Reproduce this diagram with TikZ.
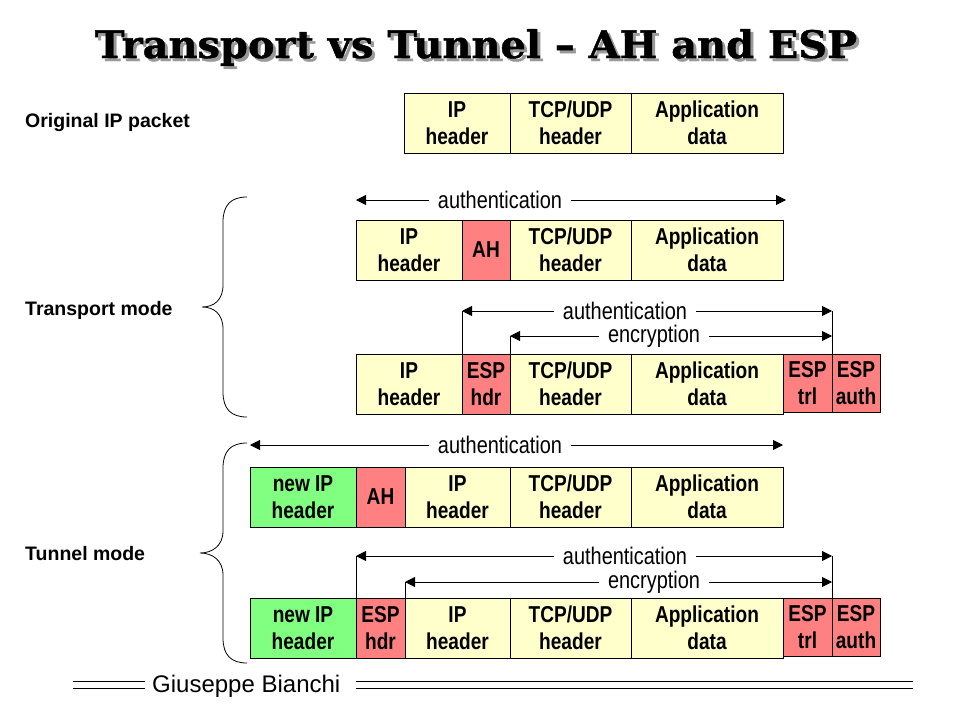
\documentclass[tikz,border=0pt]{standalone}
\usepackage{fontspec}
\setmainfont{Liberation Sans}
\newfontfamily\narrowsans[FakeStretch=0.83]{Liberation Sans}
\newfontfamily\titleserif[FakeStretch=1.05,FakeBold=1.2]{DejaVu Serif}
\usepackage{tikz}
\usetikzlibrary{arrows.meta,positioning,calc}
\definecolor{pktyellow}{RGB}{255,255,204}
\definecolor{pktred}{RGB}{255,128,128}
\definecolor{pktgreen}{RGB}{128,255,128}
\newcommand{\boxtext}{\fontsize{23}{27.5}\selectfont\narrowsans\bfseries}
\newcommand{\dimtext}{\fontsize{24}{28}\selectfont\narrowsans}
\newcommand{\sidetext}{\fontsize{19.5}{23}\selectfont\bfseries}
\newcommand{\foottext}{\fontsize{24}{28}\selectfont}
\newcommand{\titletext}{\fontsize{38}{42}\selectfont\titleserif\bfseries}

\begin{document}
\begin{tikzpicture}[x=1pt, y=-1pt, pkt/.style={draw, line width=0.8pt, outer sep=0pt, inner sep=0pt, minimum height=60pt, anchor=north west, align=center, font=\boxtext}, yel/.style={pkt, fill=pktyellow}, redb/.style={pkt, fill=pktred}, grn/.style={pkt, fill=pktgreen}, dimline/.style={{Triangle[length=10pt,width=10pt]}-{Triangle[length=10pt,width=10pt]}, line width=0.8pt}, dimlabel/.style={fill=white, inner xsep=9pt, inner ysep=1pt, font=\dimtext}, guide/.style={line width=0.8pt}, modelabel/.style={anchor=base west, inner sep=0pt, font=\sidetext}, modebrace/.style={line width=0.8pt}, footrule/.style={line width=0.9pt}]
\useasboundingbox (0,0) rectangle (960,720);
% title with its shadow
\node[anchor=base, font=\titletext, text=black!40] (shadow) at (479,61) {Transport vs Tunnel – AH and ESP};
\node[anchor=base, font=\titletext] (title) at (476,58) {Transport vs Tunnel – AH and ESP};
% side labels
\node[modelabel] (orig)  at (25,127) {Original IP packet};
\node[modelabel] (trans) at (25,315) {Transport mode};
\node[modelabel] (tunn)  at (25,560) {Tunnel mode};
% original packet
\node[yel, minimum width=106pt] (oip)  at (404,93)          {IP\\header};
\node[yel, minimum width=121pt] (otcp) at (oip.north east)  {TCP/UDP\\header};
\node[yel, minimum width=152pt] (oapp) at (otcp.north east) {Application\\data};
% transport mode, AH
\node[yel,  minimum width=106pt] (tip)  at (356,220)         {IP\\header};
\node[redb, minimum width=48pt]  (tah)  at (tip.north east)  {AH};
\node[yel,  minimum width=121pt] (ttcp) at (tah.north east)  {TCP/UDP\\header};
\node[yel,  minimum width=152pt] (tapp) at (ttcp.north east) {Application\\data};
% transport mode, ESP
\node[yel,  minimum width=106pt] (eip)  at (356,354)         {IP\\header};
\node[redb, minimum width=48pt]  (ehdr) at (eip.north east)  {ESP\\hdr};
\node[yel,  minimum width=121pt] (etcp) at (ehdr.north east) {TCP/UDP\\header};
\node[yel,  minimum width=152pt] (eapp) at (etcp.north east) {Application\\data};
\node[redb, minimum width=49pt, minimum height=58pt] (etrl)  at (eapp.north east) {ESP\\trl};
\node[redb, minimum width=48pt, minimum height=58pt] (eauth) at (etrl.north east) {ESP\\auth};
% tunnel mode, AH
\node[grn,  minimum width=106pt] (unew) at (250,467)         {new IP\\header};
\node[redb, minimum width=49pt]  (uah)  at (unew.north east) {AH};
\node[yel,  minimum width=105pt] (uip)  at (uah.north east)  {IP\\header};
\node[yel,  minimum width=121pt] (utcp) at (uip.north east)  {TCP/UDP\\header};
\node[yel,  minimum width=152pt] (uapp) at (utcp.north east) {Application\\data};
% tunnel mode, ESP
\node[grn,  minimum width=106pt] (vnew) at (250,598)         {new IP\\header};
\node[redb, minimum width=49pt]  (vhdr) at (vnew.north east) {ESP\\hdr};
\node[yel,  minimum width=105pt] (vip)  at (vhdr.north east) {IP\\header};
\node[yel,  minimum width=121pt] (vtcp) at (vip.north east)  {TCP/UDP\\header};
\node[yel,  minimum width=152pt] (vapp) at (vtcp.north east) {Application\\data};
\node[redb, minimum width=49pt, minimum height=58pt] (vtrl)  at (vapp.north east) {ESP\\trl};
\node[redb, minimum width=48pt, minimum height=58pt] (vauth) at (vtrl.north east) {ESP\\auth};
% coverage arrows
\coordinate (ta) at (0,200); \coordinate (ea) at (0,311); \coordinate (ee) at (0,336);
\coordinate (ua) at (0,445); \coordinate (va) at (0,556); \coordinate (ve) at (0,582);
\draw[dimline] (tip.north west |- ta) -- ([xshift=3pt]tapp.north east |- ta);
\draw[dimline] (ehdr.north west |- ea) -- (eauth.north west |- ea); \draw[dimline] (etcp.north west |- ee) -- (eauth.north west |- ee);
\draw[guide] (ehdr.north west) -- (ehdr.north west |- ea) (etcp.north west) -- (etcp.north west |- ee) (eauth.north west) -- (eauth.north west |- ea);
\draw[dimline] (unew.north west |- ua) -- (uapp.north east |- ua);
\draw[dimline] (vhdr.north west |- va) -- (vauth.north west |- va); \draw[dimline] (vip.north west |- ve) -- (vauth.north west |- ve);
\draw[guide] (vhdr.north west) -- (vhdr.north west |- va) (vip.north west) -- (vip.north west |- ve) (vauth.north west) -- (vauth.north west |- va);
\node[dimlabel] (tal) at (500,200) {authentication};
\node[dimlabel] (eal) at (625,311) {authentication};
\node[dimlabel] (eel) at (654,336) {encryption};
\node[dimlabel] (ual) at (500,445) {authentication};
\node[dimlabel] (val) at (625,556) {authentication};
\node[dimlabel] (vel) at (654,582) {encryption};
% mode braces
\draw[modebrace] (247,197) .. controls (231,197) and (223,205) .. (223,222) -- (223,285) .. controls (223,300) and (214,307) .. (202,307) .. controls (214,307) and (223,314) .. (223,329) -- (223,392) .. controls (223,409) and (231,417) .. (247,417);
\draw[modebrace] (247,443) .. controls (231,443) and (223,451) .. (223,468) -- (223,531) .. controls (223,546) and (212,553) .. (200,553) .. controls (212,553) and (223,560) .. (223,575) -- (223,638) .. controls (223,655) and (231,663) .. (247,663);
% footer
\node[anchor=base west, inner xsep=7pt, inner ysep=2pt, font=\foottext] (author) at (145,692) {Giuseppe Bianchi};
\coordinate (fl1) at (73,681); \coordinate (fl2) at (73,688); \coordinate (fr1) at (913,681); \coordinate (fr2) at (913,688);
\draw[footrule] (fl1) -- (author.west |- fl1) (fl2) -- (author.west |- fl2);
\draw[footrule] ([xshift=8pt]author.east |- fr1) -- (fr1) ([xshift=8pt]author.east |- fr2) -- (fr2);
\end{tikzpicture}
\end{document}
